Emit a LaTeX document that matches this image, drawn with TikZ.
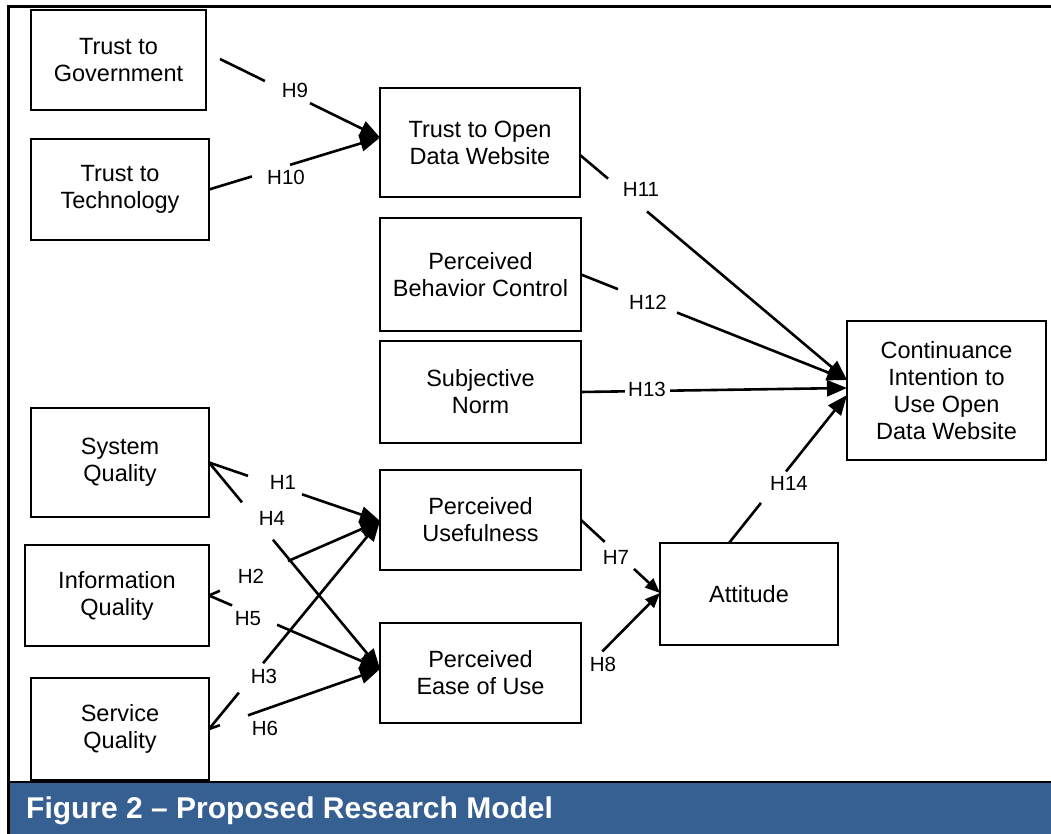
\documentclass[tikz,border=0pt]{standalone}
\usepackage{fontspec}
\setmainfont{Liberation Sans}
\usetikzlibrary{calc,arrows.meta}
\definecolor{capblue}{RGB}{54,96,146}
\tikzset{
  box/.style={draw, line width=1.8pt, align=center, inner sep=0pt, outer sep=0pt,
    font=\fontsize{23.5}{27}\selectfont},
  ln/.style={line width=2.6pt},
  bigtip/.style={-{Triangle[length=20pt,width=16pt]}},
  smalltip/.style={-{Triangle[length=15pt,width=12pt]}},
  lab/.style={font=\fontsize{20.5}{24}\selectfont, inner sep=0pt}
}
\newcommand\hconn[5]{%
  \draw[ln] (#1) -- ($(#1)!#3!(#2)$);
  \draw[ln,#5] ($(#1)!#4!(#2)$) -- (#2);}
\begin{document}
\begin{tikzpicture}[x=1pt,y=-1pt]
\useasboundingbox (0,0) rectangle (1051,834);
% frame
\fill[capblue] (10,783) rectangle (1051,834);
\draw[line width=2.5pt] (8.5,782) -- (1051,782);
\draw[line width=3pt] (8.5,5) -- (8.5,834);
\draw[line width=3pt] (7,6.5) -- (1051,6.5);
\node[anchor=base west, text=white, inner sep=0pt, font=\bfseries\fontsize{30}{32}\selectfont] (cap) at (26,818) {Figure 2 – Proposed Research Model};
% boxes
\node[box, minimum width=175pt, minimum height=100pt] (tg) at (118.5,60) {Trust to\\Government};
\node[box, minimum width=178pt, minimum height=101pt] (tt) at (120,189.5) {Trust to\\Technology};
\node[box, minimum width=200pt, minimum height=109pt] (todw) at (480,142.5) {Trust to Open\\Data Website};
\node[box, minimum width=201pt, minimum height=113pt] (pbc) at (480.5,274.5) {Perceived\\Behavior Control};
\node[box, minimum width=201pt, minimum height=102pt] (sn) at (480.5,392) {Subjective\\Norm};
\node[box, minimum width=178pt, minimum height=109pt] (sq) at (120,462.5) {System\\Quality};
\node[box, minimum width=201pt, minimum height=100pt] (pu) at (480.5,520) {Perceived\\Usefulness};
\node[box, minimum width=184pt, minimum height=101pt] (iq) at (117,595.5) {Information\\Quality};
\node[box, minimum width=201pt, minimum height=100pt] (peou) at (480.5,673) {Perceived\\Ease of Use};
\node[box, minimum width=178pt, minimum height=102pt] (svq) at (120,729) {Service\\Quality};
\node[box, minimum width=178pt, minimum height=102pt] (att) at (749,594) {Attitude};
\node[box, minimum width=199pt, minimum height=139pt] (ci) at (946.5,390.5) {Continuance\\Intention to\\Use Open\\Data Website};
% connector end points
\coordinate (h9s) at ($(tg.east)+(14,-1)$);
\coordinate (todwin) at ($(todw.west)+(0,-5)$);
\coordinate (h11s) at ($(todw.east)+(0,12.5)$);
\coordinate (ciup) at ($(ci.west)+(0,-10.5)$);
\coordinate (cimid) at ($(ci.west)+(0,-2.5)$);
\coordinate (cilow) at ($(ci.west)+(0,4.5)$);
\coordinate (h14s) at ($(att.north)+(-20,0)$);
\coordinate (puin) at ($(pu.west)+(0,1)$);
\coordinate (peouin) at ($(peou.west)+(0,-4)$);
\coordinate (attin) at ($(att.west)+(0,-1)$);
% connectors
\hconn{h9s}{todwin}{0.281}{0.5625}{bigtip}
\hconn{tt.east}{todwin}{0.251}{0.474}{bigtip}
\hconn{h11s}{ciup}{0.105}{0.251}{bigtip}
\hconn{pbc.east}{ciup}{0.139}{0.361}{bigtip}
\hconn{sn.east}{cimid}{0.165}{0.335}{bigtip}
\hconn{h14s}{cilow}{0.271}{0.483}{bigtip}
\hconn{pu.east}{attin}{0.30}{0.67}{smalltip}
\draw[ln,smalltip] ($(peou.east)!0.27!(attin)$) -- (attin);
\hconn{sq.east}{puin}{0.228}{0.544}{bigtip}
\hconn{sq.east}{peouin}{0.193}{0.374}{bigtip}
\hconn{iq.east}{puin}{0.064}{0.462}{bigtip}
\hconn{iq.east}{peouin}{0.135}{0.398}{bigtip}
\hconn{svq.east}{puin}{0.175}{0.316}{bigtip}
\hconn{svq.east}{peouin}{0.064}{0.228}{bigtip}
% labels
\node[lab] (l9) at (295,90) {H9};
\node[lab] (l10) at (286,177) {H10};
\node[lab] (l11) at (641,189) {H11};
\node[lab] (l12) at (648,302) {H12};
\node[lab] (l13) at (647,389) {H13};
\node[lab] (l14) at (789,483) {H14};
\node[lab] (l7) at (616,557) {H7};
\node[lab] (l8) at (603,664) {H8};
\node[lab] (l1) at (283,482) {H1};
\node[lab] (l4) at (272,518) {H4};
\node[lab] (l2) at (251,576) {H2};
\node[lab] (l5) at (248,619) {H5};
\node[lab] (l3) at (264,676) {H3};
\node[lab] (l6) at (265,728) {H6};
\end{tikzpicture}
\end{document}
